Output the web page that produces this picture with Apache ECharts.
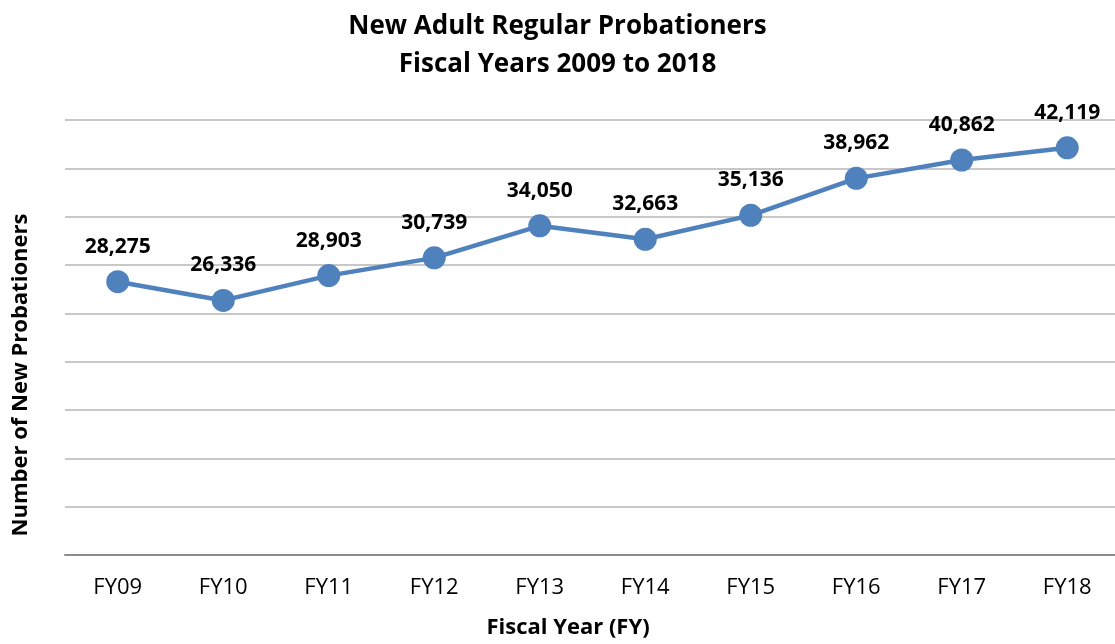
<!DOCTYPE html>
<html><head><meta charset="utf-8">
<script src="https://cdn.jsdelivr.net/npm/echarts@6/dist/echarts.min.js"></script>
<style>html,body{margin:0;padding:0;background:#fff}#c{width:1115px;height:644px}</style>
</head><body><div id="c"></div>
<script>
const categories = ['FY09','FY10','FY11','FY12','FY13','FY14','FY15','FY16','FY17','FY18'];
const probationers = [28275, 26336, 28903, 30739, 34050, 32663, 35136, 38962, 40862, 42119];
const titleText = 'New Adult Regular Probationers\nFiscal Years 2009 to 2018';
const xName = 'Fiscal Year (FY)';
const yName = 'Number of New Probationers';

const F = '"Open Sans", "Liberation Sans", sans-serif';
const chart = echarts.init(document.getElementById('c'));
chart.setOption({
  animation: false,
  title: {
    text: titleText, left: 'center', top: 3,
    textStyle: {fontFamily: F, fontSize: 26, fontWeight: 'bold', color: '#000', lineHeight: 38}
  },
  grid: {left: 65, width: 1055, top: 120, bottom: 89, outerBoundsMode: 'none', containLabel: false},
  xAxis: {
    type: 'category', data: categories, boundaryGap: true,
    axisLine: {show: true, lineStyle: {color: '#8c8c8c', width: 2}},
    axisTick: {show: false},
    axisLabel: {fontFamily: F, fontSize: 22, color: '#000', margin: 22}
  },
  yAxis: {
    type: 'value', min: 0, max: 45000, interval: 5000,
    axisLine: {show: false}, axisTick: {show: false}, axisLabel: {show: false},
    splitLine: {lineStyle: {color: '#c8c8c8', width: 2}}
  },
  graphic: [
    {type: 'text', x: 568, y: 628, style: {text: xName, font: 'bold 22px ' + F, fill: '#000', align: 'center', verticalAlign: 'middle'}},
    {type: 'text', x: 21, y: 375, rotation: Math.PI/2, style: {text: yName, font: 'bold 22px ' + F, fill: '#000', align: 'center', verticalAlign: 'middle'}}
  ],
  series: [{
    type: 'line', data: probationers,
    symbol: 'circle', symbolSize: 23,
    lineStyle: {color: '#4f81bd', width: 4.5},
    itemStyle: {color: '#4f81bd'},
    label: {
      show: true, position: 'top', distance: 13,
      fontFamily: F, fontSize: 21, fontWeight: 'bold', color: '#000',
      formatter: p => p.value.toLocaleString('en-US')
    }
  }]
});
</script></body></html>
